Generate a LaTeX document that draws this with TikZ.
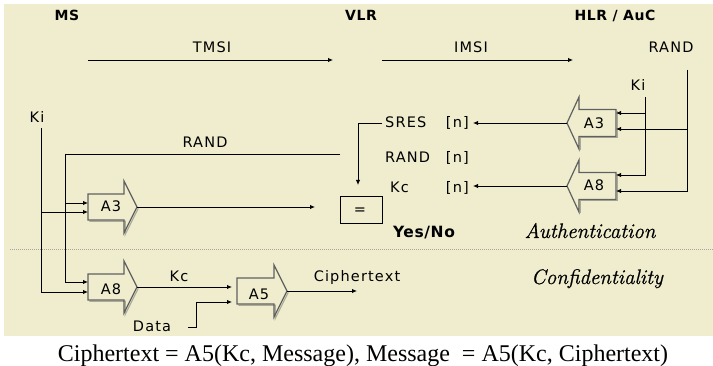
\documentclass[tikz,border=0pt]{standalone}
\usepackage{fontspec}
\setmainfont{Latin Modern Roman}
\newfontfamily\gsans[LetterSpace=8]{DejaVu Sans}
\newfontfamily\ghead[LetterSpace=4]{DejaVu Sans}
\newfontfamily\capfont{Liberation Serif}
\newfontfamily\modefont[ItalicFeatures={FakeBold=0.8}]{Latin Modern Roman}
\usetikzlibrary{arrows.meta}

\definecolor{panel}{RGB}{239,237,206}
\definecolor{blkline}{RGB}{96,96,96}
\definecolor{blkshade}{RGB}{170,170,150}

\tikzset{
  wire/.style={line width=0.9pt},
  conn/.style={line width=0.9pt, -{Latex[length=5pt,width=4.5pt]}},
  lbl/.style={font=\gsans\fontsize{14.5}{16}\selectfont, inner sep=0pt, anchor=base},
  head/.style={font=\ghead\bfseries\fontsize{14}{16}\selectfont, inner sep=0pt, anchor=base},
  mode/.style={font=\modefont\itshape\fontsize{21}{23}\selectfont, inner sep=0pt, anchor=base},
  blk/.style={draw=blkline, line width=1.2pt, line join=miter},
  blkshadow/.style={draw=blkshade, line width=1.2pt, line join=miter},
  cmpbox/.style={draw, line width=0.9pt, minimum width=42pt, minimum height=27pt, inner sep=0pt},
}

% block arrow pointing right: name, body left x, body right x, centre y
\newcommand\blockright[4]{%
  \draw[blkshadow] (#2+1.3,#4+13+1.3) -- (#3+1.3,#4+13+1.3) -- (#3+1.3,#4+26+1.3) -- (#3+14.3,#4+1.3);
  \draw[blk] (#2,#4-13) -- (#3,#4-13) -- (#3,#4-26) -- (#3+13,#4) -- (#3,#4+26) -- (#3,#4+13) -- (#2,#4+13) -- cycle;
  \coordinate (#1-tip) at (#3+13,#4);
}
% block arrow pointing left: name, body left x (head side), body right x, centre y
\newcommand\blockleft[4]{%
  \draw[blkshadow] (#3+1.3,#4-13.5+1.3) -- (#3+1.3,#4+13.5+1.3) -- (#2+1.3,#4+13.5+1.3) -- (#2+1.3,#4+26+1.3);
  \draw[blk] (#3,#4-13.5) -- (#2,#4-13.5) -- (#2,#4-26) -- (#2-12,#4) -- (#2,#4+26) -- (#2,#4+13.5) -- (#3,#4+13.5) -- cycle;
  \coordinate (#1-tip) at (#2-12,#4);
}

\begin{document}
\begin{tikzpicture}[x=1pt, y=-1pt]
\useasboundingbox (0,0) rectangle (713,366);
\fill[panel] (4,4) rectangle (713,336);

% separator between authentication and confidentiality
\draw[gray!70, line width=0.7pt, dash pattern=on 1pt off 1pt] (10,249) -- (713,249);

% column headings
\node[head] (ms) at (67,21) {MS};
\node[head] (vlr) at (361,21) {VLR};
\node[head] (hlr) at (615,21) {HLR / AuC};

% identity messages
\node[lbl] (tmsi) at (212,53) {TMSI};
\node[lbl] (imsi) at (471,53) {IMSI};
\coordinate (tmsiA) at (88,60);  \coordinate (tmsiB) at (333,60);
\coordinate (imsiA) at (382,60); \coordinate (imsiB) at (573,60);
\draw[conn] (tmsiA) -- (tmsiB);
\draw[conn] (imsiA) -- (imsiB);

% HLR / AuC side
\node[lbl] (randtop) at (671,53) {RAND};
\node[lbl] (kiRlbl) at (638,91) {Ki};
\blockleft{A3R}{579}{616}{123}
\blockleft{A8R}{579}{616}{186}
\node[lbl] (A3R) at (594,129) {A3};
\node[lbl] (A8R) at (594,191) {A8};
\coordinate (A3R-inA) at (616,113); \coordinate (A3R-inB) at (616,129);
\coordinate (A8R-inA) at (616,175); \coordinate (A8R-inB) at (616,191);
\coordinate (kiR) at (645,97);
\coordinate (randR) at (687,70);
\draw[conn] (kiR) |- (A8R-inA);
\draw[conn] (kiR |- A3R-inA) -- (A3R-inA);
\draw[conn] (randR) |- (A8R-inB);
\draw[conn] (randR |- A3R-inB) -- (A3R-inB);

% triplets delivered to the VLR
\node[lbl, anchor=base west] (sres) at (385,128) {SRES};
\node[lbl, anchor=base east] (sresn) at (469,128) {[n]};
\node[lbl, anchor=base west] (randn) at (385,163) {RAND};
\node[lbl, anchor=base east] (randnn) at (469,163) {[n]};
\node[lbl, anchor=base west] (kcn) at (390,193) {Kc};
\node[lbl, anchor=base east] (kcnn) at (469,193) {[n]};
\coordinate (sresIn) at (473,123);
\coordinate (kcIn) at (473,186);
\draw[conn] (A3R-tip) -- (sresIn);
\draw[conn] (A8R-tip) -- (kcIn);

% comparison in the VLR
\node[cmpbox] (eqbox) at (361,210) {};
\node[lbl] (eqsign) at (360,215) {=};
\coordinate (sresOut) at (382,123);
\coordinate (cmpIn) at (358,185);
\draw[conn] (sresOut) -| (cmpIn);
\node[head, font=\ghead\bfseries\fontsize{15.5}{17}\selectfont] (yesno) at (424,238) {Yes/No};

% mobile station side
\node[lbl] (kiLlbl) at (37,123) {Ki};
\node[lbl] (randLlbl) at (205,148) {RAND};
\blockright{A3L}{88}{124}{207}
\blockright{A8L}{88}{124}{287}
\blockright{A5}{237}{274}{291}
\node[lbl] (A3L) at (111,212) {A3};
\node[lbl] (A8L) at (111,295) {A8};
\node[lbl] (A5) at (259,300) {A5};
\coordinate (A3L-inA) at (88,203); \coordinate (A3L-inB) at (88,212);
\coordinate (A8L-inA) at (88,282); \coordinate (A8L-inB) at (88,292);
\coordinate (A5-inA) at (232,287); \coordinate (A5-inB) at (232,302);

\coordinate (randL) at (340,154);
\coordinate (randLc) at (65,154);
\coordinate (kiL) at (41,128);
\draw[wire] (randL) -- (randLc);
\draw[conn] (randLc) |- (A8L-inA);
\draw[conn] (randLc |- A3L-inA) -- (A3L-inA);
\draw[conn] (kiL) |- (A8L-inB);
\draw[conn] (kiL |- A3L-inB) -- (A3L-inB);

\coordinate (sresMS) at (315,207);
\draw[conn] (A3L-tip) -- (sresMS);

% ciphering
\node[lbl] (kclbl) at (179,282) {Kc};
\draw[conn] (A8L-tip) -- (A5-inA);
\node[lbl] (data) at (152,332) {Data};
\coordinate (dataOut) at (188,327);
\draw[conn] (dataOut) -- ++(8,0) |- (A5-inB);
\node[lbl] (ctlbl) at (357,282) {Ciphertext};
\coordinate (ctOut) at (357,291);
\draw[conn] (A5-tip) -- (ctOut);

% phase names
\node[mode] (auth) at (590,238) {Authentication};
\node[mode] (conf) at (597,284) {Confidentiality};

% relation below the panel
\node[font=\capfont\fontsize{24}{26}\selectfont, inner sep=0pt, anchor=base] (caption) at (363,362)
  {Ciphertext = A5(Kc, Message), Message\ \ = A5(Kc, Ciphertext)};
\end{tikzpicture}
\end{document}
